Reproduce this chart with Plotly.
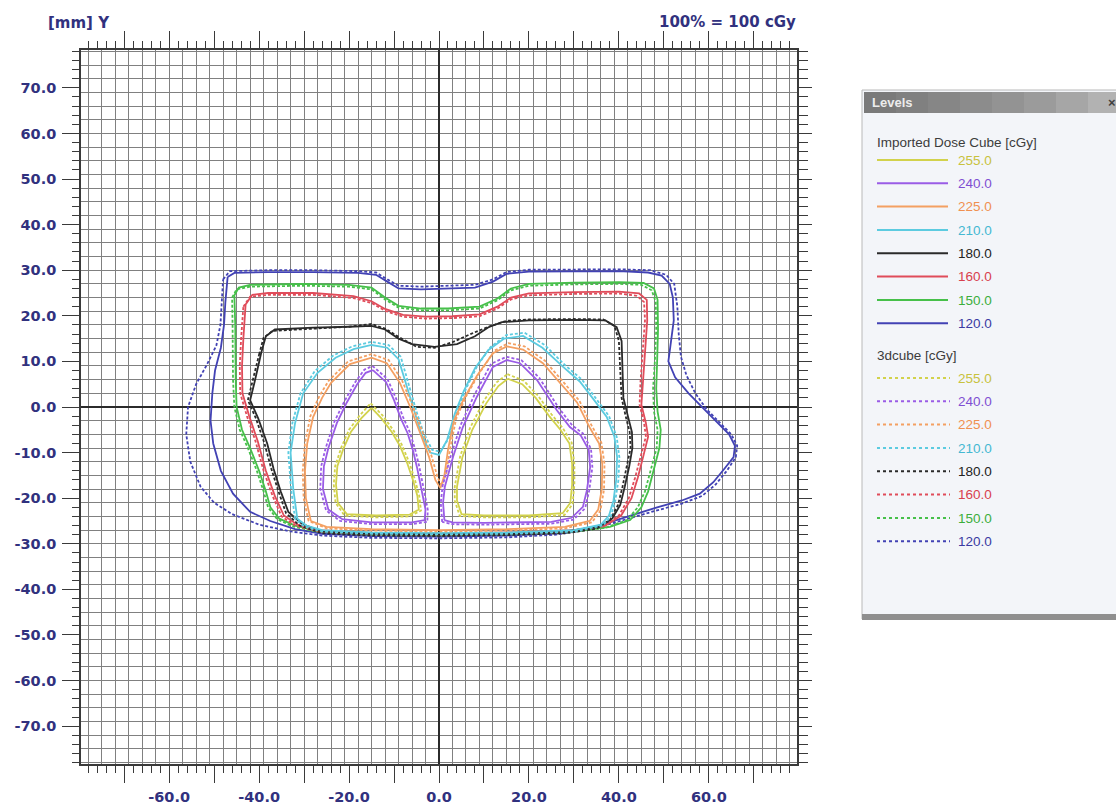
import plotly.graph_objects as go

# ---------------------------------------------------------------------------
# Isodose contours in mm (X, Y). Each level is a list of closed loops.
# "imp_*"  : Imported Dose Cube   (solid)
# "cube_*" : 3dcube               (dashed)
# ---------------------------------------------------------------------------
imp_120 = [[
    (-47.0, 28.5), (-45.5, 29.4), (-38.0, 29.6), (-28.0, 29.6), (-18.0, 29.4), (-14.0, 29.0),
    (-11.5, 27.5), (-9.0, 26.0), (-4.0, 25.8), (2.0, 26.0), (8.0, 26.2), (12.0, 27.5),
    (15.0, 29.2), (20.0, 29.7), (30.0, 29.8), (40.0, 29.8), (46.5, 29.5), (49.5, 28.8),
    (51.3, 27.0), (52.0, 24.0), (52.2, 19.0), (51.5, 14.0), (51.0, 10.0), (52.5, 6.5),
    (55.5, 3.0), (59.0, -0.5), (62.0, -3.5), (64.5, -6.0), (65.8, -8.5), (65.5, -11.0),
    (63.5, -13.5), (61.0, -16.5), (58.0, -19.0), (54.0, -20.5), (48.5, -22.0), (42.0, -24.0),
    (35.0, -26.2), (27.0, -27.6), (15.0, -28.2), (0.0, -28.4), (-15.0, -28.3), (-26.0, -27.8),
    (-32.0, -26.8), (-37.5, -25.0), (-42.0, -23.0), (-45.8, -19.0), (-48.5, -14.0), (-50.2, -8.0),
    (-50.8, -3.0), (-50.4, 3.0), (-49.8, 8.0), (-48.5, 13.0), (-47.8, 18.0), (-47.5, 23.0),
    (-47.0, 28.5),
]]
cube_120 = [[
    (-48.0, 28.0), (-46.5, 29.8), (-38.0, 30.0), (-28.0, 30.0), (-18.0, 29.8), (-14.0, 29.5),
    (-11.5, 28.0), (-9.0, 26.6), (-4.0, 26.4), (2.0, 26.6), (8.0, 26.8), (12.0, 28.0),
    (15.0, 29.6), (20.0, 30.1), (30.0, 30.2), (40.0, 30.2), (47.0, 30.0), (50.5, 29.0),
    (52.3, 27.0), (53.0, 22.0), (53.3, 16.0), (53.8, 11.0), (55.0, 7.0), (57.0, 3.0),
    (59.5, -0.5), (62.5, -3.5), (65.0, -6.0), (66.3, -8.5), (66.0, -11.0), (64.0, -14.0),
    (61.5, -17.0), (58.5, -19.5), (54.0, -21.2), (48.0, -22.8), (41.0, -24.8), (34.0, -26.8),
    (26.0, -28.0), (15.0, -28.6), (0.0, -28.8), (-15.0, -28.7), (-26.0, -28.2), (-33.0, -27.3),
    (-40.0, -25.8), (-46.0, -23.5), (-50.0, -21.0), (-53.0, -17.5), (-55.3, -12.0), (-56.2, -6.0),
    (-55.8, 0.0), (-54.0, 5.0), (-51.5, 9.5), (-49.5, 13.5), (-48.6, 18.0), (-48.3, 23.0),
    (-48.0, 28.0),
]]

imp_150 = [[
    (-45.5, 24.5), (-44.5, 26.2), (-42.0, 26.8), (-30.0, 27.0), (-20.0, 26.8), (-15.0, 26.2),
    (-12.0, 24.0), (-9.0, 22.2), (-4.0, 21.6), (2.0, 21.6), (9.0, 22.0), (13.0, 23.8),
    (16.0, 26.0), (20.0, 27.0), (30.0, 27.3), (40.0, 27.4), (45.5, 27.2), (47.8, 26.0),
    (48.6, 23.5), (48.7, 17.0), (48.5, 10.0), (48.3, 4.0), (48.6, -1.0), (49.3, -5.0),
    (49.0, -9.0), (47.8, -13.5), (46.5, -18.5), (45.0, -22.0), (42.5, -24.8), (38.0, -26.3),
    (30.0, -27.3), (15.0, -27.8), (0.0, -28.0), (-15.0, -27.9), (-27.0, -27.2), (-32.0, -26.0),
    (-35.5, -24.5), (-37.5, -22.0), (-38.5, -18.5), (-40.0, -14.0), (-42.0, -9.0), (-43.8, -5.0),
    (-45.0, 0.0), (-45.2, 6.0), (-45.2, 12.0), (-45.3, 18.0), (-45.5, 24.5),
]]
cube_150 = [[
    (-46.0, 24.0), (-45.0, 25.8), (-42.0, 26.4), (-30.0, 26.6), (-20.0, 26.4), (-15.0, 25.8),
    (-12.0, 23.6), (-9.0, 21.8), (-4.0, 21.2), (2.0, 21.2), (9.0, 21.6), (13.0, 23.4),
    (16.0, 25.6), (20.0, 26.6), (30.0, 26.9), (40.0, 27.0), (45.0, 26.8), (47.3, 25.6),
    (48.2, 23.0), (48.3, 17.0), (48.0, 10.0), (47.6, 4.0), (47.8, -1.0), (48.6, -5.0),
    (48.4, -9.0), (47.2, -13.5), (45.8, -18.5), (44.2, -22.0), (41.8, -24.8), (37.0, -26.5),
    (29.0, -27.5), (15.0, -28.0), (0.0, -28.2), (-15.0, -28.1), (-27.0, -27.4), (-32.5, -26.2),
    (-36.0, -24.6), (-38.0, -22.0), (-39.0, -18.5), (-40.5, -14.0), (-42.5, -9.0), (-44.3, -5.0),
    (-45.5, 0.0), (-45.8, 6.0), (-45.8, 12.0), (-45.9, 18.0), (-46.0, 24.0),
]]

imp_160 = [[
    (-43.0, 22.5), (-41.5, 24.6), (-38.0, 25.0), (-28.0, 25.0), (-19.0, 24.3), (-15.0, 23.2),
    (-12.0, 21.5), (-8.0, 20.2), (-3.0, 19.8), (3.0, 19.9), (9.0, 20.3), (13.0, 22.0),
    (16.0, 24.0), (20.0, 24.9), (30.0, 25.2), (40.0, 25.3), (44.5, 24.9), (46.2, 23.5),
    (46.3, 19.0), (45.8, 12.5), (45.3, 5.5), (45.0, 0.5), (46.0, -3.5), (46.5, -6.5),
    (45.5, -10.5), (44.2, -15.5), (42.8, -20.0), (40.5, -23.8), (37.0, -26.0), (30.0, -27.0),
    (15.0, -27.5), (0.0, -27.7), (-15.0, -27.6), (-27.0, -27.0), (-31.5, -25.8), (-34.5, -23.8),
    (-36.5, -19.5), (-38.5, -14.0), (-40.3, -7.5), (-42.2, -2.0), (-43.7, 3.0), (-43.8, 9.0),
    (-43.5, 15.0), (-43.0, 22.5),
]]
cube_160 = [[
    (-43.5, 22.0), (-42.0, 24.2), (-38.0, 24.6), (-28.0, 24.6), (-19.0, 23.9), (-15.0, 22.8),
    (-12.0, 21.1), (-8.0, 19.8), (-3.0, 19.4), (3.0, 19.5), (9.0, 19.9), (13.0, 21.6),
    (16.0, 23.6), (20.0, 24.5), (30.0, 24.8), (40.0, 24.9), (44.0, 24.4), (45.6, 23.0),
    (45.8, 19.0), (45.3, 12.5), (44.8, 5.5), (44.6, 0.5), (45.6, -3.5), (46.0, -6.5),
    (45.0, -10.5), (43.6, -15.5), (42.2, -20.0), (40.0, -23.8), (36.5, -26.2), (30.0, -27.3),
    (15.0, -27.8), (0.0, -28.0), (-15.0, -27.9), (-27.0, -27.3), (-32.0, -26.0), (-35.0, -24.0),
    (-37.0, -19.5), (-39.0, -14.0), (-40.8, -7.5), (-42.7, -2.0), (-44.2, 3.0), (-44.3, 9.0),
    (-44.0, 15.0), (-43.5, 22.0),
]]

imp_180 = [[
    (-39.5, 12.0), (-38.5, 15.5), (-36.5, 17.0), (-28.0, 17.4), (-20.0, 17.6), (-15.0, 17.8),
    (-12.0, 17.0), (-9.0, 15.0), (-6.0, 13.8), (-1.0, 13.2), (4.0, 13.8), (8.0, 15.5),
    (11.0, 17.5), (14.0, 18.6), (20.0, 19.0), (30.0, 19.1), (37.0, 19.0), (39.5, 17.5),
    (40.6, 14.5), (40.8, 8.0), (41.0, 2.0), (42.0, -2.0), (42.9, -5.5), (43.0, -9.0),
    (42.3, -13.0), (41.3, -17.5), (40.3, -21.5), (38.5, -24.5), (35.5, -26.3), (28.0, -27.3),
    (15.0, -27.7), (0.0, -27.9), (-15.0, -27.8), (-26.0, -27.3), (-30.5, -25.6), (-33.5, -23.0),
    (-35.2, -18.5), (-36.8, -13.5), (-38.2, -8.0), (-40.2, -2.5), (-42.0, 1.5), (-41.0, 5.5),
    (-39.5, 12.0),
]]
cube_180 = [[
    (-40.0, 11.5), (-39.0, 15.2), (-37.0, 16.7), (-28.0, 17.2), (-20.0, 17.6), (-15.0, 18.2),
    (-12.0, 17.2), (-9.0, 15.4), (-5.0, 13.2), (-1.0, 13.0), (3.0, 14.2), (7.0, 16.0),
    (11.0, 17.6), (15.0, 18.9), (20.0, 19.2), (30.0, 19.3), (36.5, 19.2), (39.0, 17.8),
    (40.0, 14.5), (40.3, 8.0), (40.6, 2.0), (41.5, -2.0), (42.4, -5.5), (42.6, -9.0),
    (41.8, -13.0), (40.8, -17.5), (39.8, -21.5), (38.0, -24.8), (35.0, -26.7), (28.0, -27.7),
    (15.0, -28.1), (0.0, -28.3), (-15.0, -28.2), (-26.0, -27.7), (-31.0, -26.0), (-34.0, -23.3),
    (-35.7, -18.5), (-37.3, -13.5), (-38.8, -8.0), (-40.7, -2.5), (-42.5, 1.5), (-41.5, 5.5),
    (-40.0, 11.5),
]]

imp_210 = [[
    (-31.5, -24.5), (-32.4, -18.0), (-33.0, -10.0), (-32.0, -3.5), (-30.2, 3.0), (-27.0, 7.5),
    (-23.0, 10.8), (-19.0, 12.7), (-15.0, 13.6), (-11.5, 13.0), (-9.0, 10.5), (-7.3, 5.0),
    (-5.5, -1.0), (-4.0, -5.7), (-2.0, -10.0), (0.0, -10.5), (1.8, -7.2), (3.5, -1.5),
    (5.5, 3.5), (8.0, 8.5), (11.0, 12.5), (14.5, 15.0), (18.7, 15.6), (23.0, 13.0),
    (27.6, 8.8), (31.3, 5.6), (34.5, 1.5), (37.3, -2.2), (39.0, -6.5), (39.6, -11.0),
    (39.4, -16.0), (38.8, -20.5), (37.8, -23.8), (36.0, -25.8), (30.0, -27.0), (15.0, -27.5),
    (0.0, -27.6), (-15.0, -27.5), (-26.0, -27.0), (-29.5, -26.0), (-31.5, -24.5),
]]
cube_210 = [[
    (-32.0, -24.5), (-32.9, -18.0), (-33.5, -10.0), (-32.6, -3.5), (-30.8, 3.0), (-27.6, 7.9),
    (-23.5, 11.3), (-19.3, 13.3), (-15.0, 14.3), (-11.2, 13.6), (-8.5, 11.0), (-6.8, 5.2),
    (-5.0, -1.0), (-3.5, -5.5), (-1.5, -9.4), (0.3, -9.8), (2.2, -6.8), (4.0, -1.2),
    (6.0, 4.0), (8.5, 9.0), (11.5, 13.2), (15.0, 15.8), (19.0, 16.3), (23.5, 13.6),
    (28.0, 9.2), (31.8, 6.0), (35.0, 1.8), (37.8, -2.0), (39.5, -6.5), (40.1, -11.0),
    (39.9, -16.0), (39.2, -20.5), (38.2, -24.0), (36.4, -26.0), (30.0, -27.3), (15.0, -27.8),
    (0.0, -27.9), (-15.0, -27.8), (-26.0, -27.3), (-30.0, -26.2), (-32.0, -24.5),
]]

imp_225 = [[
    (-28.5, -25.0), (-29.6, -20.0), (-29.8, -14.0), (-29.3, -8.0), (-28.0, -2.2), (-26.0, 2.0),
    (-24.0, 5.3), (-19.8, 9.4), (-15.0, 10.8), (-11.6, 9.6), (-8.7, 5.3), (-6.4, 0.0),
    (-4.2, -5.7), (-2.2, -11.0), (-0.8, -16.0), (0.3, -17.8), (1.2, -15.0), (2.0, -9.4),
    (3.3, -3.0), (5.5, 1.8), (8.4, 6.8), (12.0, 11.8), (15.1, 13.3), (18.7, 12.6),
    (23.1, 9.6), (27.6, 4.6), (30.7, 1.0), (33.5, -4.5), (35.6, -8.0), (36.3, -12.5),
    (36.2, -18.0), (35.4, -22.5), (33.5, -25.0), (28.0, -26.3), (15.0, -26.8), (0.0, -27.0),
    (-15.0, -26.8), (-25.0, -26.3), (-28.5, -25.0),
]]
cube_225 = [[
    (-29.0, -25.0), (-30.1, -20.0), (-30.3, -14.0), (-29.8, -8.0), (-28.6, -2.0), (-26.6, 2.4),
    (-24.5, 5.8), (-20.2, 10.0), (-15.0, 11.6), (-11.2, 10.3), (-8.2, 5.8), (-5.9, 0.3),
    (-3.7, -5.4), (-1.7, -10.6), (-0.3, -15.5), (0.6, -17.2), (1.6, -14.5), (2.5, -9.0),
    (3.8, -2.6), (6.0, 2.3), (8.9, 7.3), (12.4, 12.4), (15.4, 14.0), (19.0, 13.3),
    (23.5, 10.2), (28.0, 5.1), (31.2, 1.4), (34.0, -4.2), (36.1, -7.8), (36.8, -12.5),
    (36.7, -18.0), (35.9, -22.7), (34.0, -25.3), (28.0, -26.6), (15.0, -27.1), (0.0, -27.3),
    (-15.0, -27.1), (-25.0, -26.6), (-29.0, -25.0),
]]

imp_240 = [
    [(-14.7, 8.1), (-11.8, 5.5), (-10.0, 1.5), (-8.5, -2.5), (-7.0, -5.7), (-5.8, -9.5),
     (-4.9, -13.2), (-3.8, -18.9), (-3.0, -22.5), (-3.2, -24.8), (-6.0, -25.3), (-15.0, -25.3),
     (-21.5, -24.6), (-24.6, -22.5), (-25.8, -18.0), (-25.6, -13.0), (-24.6, -9.0), (-22.7, -3.5),
     (-20.5, 1.0), (-18.2, 5.0), (-16.3, 7.5), (-14.7, 8.1)],
    [(1.2, -24.8), (0.9, -21.0), (1.3, -17.5), (3.1, -11.0), (5.3, -4.4), (8.4, 2.2),
     (12.0, 8.8), (15.1, 10.3), (18.0, 9.6), (21.8, 5.9), (26.2, -0.7), (29.1, -4.4),
     (31.5, -6.2), (33.3, -9.4), (33.6, -13.2), (32.9, -18.2), (32.0, -21.9), (29.5, -24.3),
     (25.0, -25.2), (10.0, -25.4), (3.0, -25.3), (1.2, -24.8)],
]
cube_240 = [
    [(-14.8, 9.0), (-11.5, 6.2), (-9.6, 2.0), (-8.0, -2.2), (-6.5, -5.5), (-5.3, -9.3),
     (-4.4, -13.0), (-3.3, -18.7), (-2.5, -22.5), (-2.6, -25.2), (-6.0, -25.7), (-15.0, -25.7),
     (-22.0, -25.0), (-25.1, -22.7), (-26.4, -18.0), (-26.2, -13.0), (-25.2, -9.0), (-23.3, -3.3),
     (-21.0, 1.3), (-18.6, 5.5), (-16.6, 8.2), (-14.8, 9.0)],
    [(0.7, -25.2), (0.4, -21.0), (0.8, -17.3), (2.6, -10.8), (4.8, -4.0), (7.9, 2.7),
     (11.6, 9.5), (15.0, 11.0), (18.3, 10.3), (22.3, 6.4), (26.7, -0.3), (29.6, -4.0),
     (32.0, -5.8), (33.8, -9.2), (34.1, -13.2), (33.4, -18.3), (32.5, -22.2), (29.9, -24.7),
     (25.0, -25.6), (10.0, -25.8), (3.0, -25.7), (0.7, -25.2)],
]

imp_255 = [
    [(-15.0, -0.2), (-12.8, -2.5), (-10.5, -5.5), (-8.7, -8.5), (-7.0, -12.5), (-5.8, -16.0),
     (-4.8, -19.5), (-4.5, -22.5), (-6.5, -23.6), (-14.0, -23.8), (-20.5, -23.5), (-22.5, -21.0),
     (-22.9, -17.0), (-22.6, -13.0), (-21.2, -9.0), (-19.6, -5.5), (-17.3, -2.5), (-15.0, -0.2)],
    [(15.3, 6.2), (18.5, 5.0), (21.5, 2.0), (24.5, -2.0), (27.0, -5.0), (29.0, -8.0),
     (29.6, -12.5), (29.6, -17.0), (29.2, -21.0), (27.5, -23.3), (20.0, -23.8), (10.0, -23.8),
     (5.0, -23.5), (4.0, -20.5), (4.0, -17.5), (5.2, -11.0), (7.4, -5.0), (10.5, 0.8),
     (13.2, 4.6), (15.3, 6.2)],
]
cube_255 = [
    [(-15.2, 0.8), (-12.6, -1.8), (-10.2, -5.0), (-8.3, -8.2), (-6.6, -12.2), (-5.4, -15.8),
     (-4.4, -19.4), (-4.0, -22.7), (-6.5, -24.0), (-14.0, -24.2), (-21.0, -23.8), (-23.0, -21.0),
     (-23.4, -17.0), (-23.1, -13.0), (-21.7, -8.8), (-20.0, -5.0), (-17.6, -1.8), (-15.2, 0.8)],
    [(15.2, 7.2), (18.8, 5.8), (22.0, 2.5), (25.0, -1.6), (27.5, -4.6), (29.5, -7.8),
     (30.1, -12.5), (30.1, -17.0), (29.7, -21.3), (27.9, -23.7), (20.0, -24.2), (10.0, -24.2),
     (4.6, -23.9), (3.5, -20.5), (3.5, -17.5), (4.7, -10.8), (6.9, -4.6), (10.0, 1.4),
     (12.8, 5.4), (15.2, 7.2)],
]

# dose levels (cGy) and their contour sets, listed as in the level panel
levels = [255.0, 240.0, 225.0, 210.0, 180.0, 160.0, 150.0, 120.0]
imported_sets = [imp_255, imp_240, imp_225, imp_210, imp_180, imp_160, imp_150, imp_120]
cube_sets = [cube_255, cube_240, cube_225, cube_210, cube_180, cube_160, cube_150, cube_120]

# axis ticks
x_tick_vals = [-70, -60, -50, -40, -30, -20, -10, 0, 10, 20, 30, 40, 50, 60, 70]
x_tick_text = ["", "-60.0", "", "-40.0", "", "-20.0", "", "0.0", "", "20.0", "", "40.0", "", "60.0", ""]
y_tick_vals = [70, 60, 50, 40, 30, 20, 10, 0, -10, -20, -30, -40, -50, -60, -70]
y_tick_text = ["70.0", "60.0", "50.0", "40.0", "30.0", "20.0", "10.0", "0.0",
               "-10.0", "-20.0", "-30.0", "-40.0", "-50.0", "-60.0", "-70.0"]

# ---------------------------------------------------------------------------
# styling
# ---------------------------------------------------------------------------
line_colors = {
    255.0: "#d2d24c", 240.0: "#9a5ce6", 225.0: "#f4a062", 210.0: "#5ccbe0",
    180.0: "#2a2a2a", 160.0: "#e04c5a", 150.0: "#46c04a", 120.0: "#4242b4",
}
text_colors = {
    255.0: "#c8c23e", 240.0: "#7f4fd2", 225.0: "#f09050", 210.0: "#44b8d2",
    180.0: "#222222", 160.0: "#d8404e", 150.0: "#3cae3c", 120.0: "#3a3aa2",
}
AXIS_BLUE = "#31317e"
W, H = 1116, 810
PL, PR, PT, PB = 81, 797, 50, 764          # plot frame in page pixels


def flatten(loops):
    xs, ys = [], []
    for loop in loops:
        xs += [p[0] for p in loop] + [None]
        ys += [p[1] for p in loop] + [None]
    return xs, ys


def paper(x, y):
    """page pixel -> paper coordinates"""
    return (x - PL) / (PR - PL), (PB - y) / (PB - PT)


fig = go.Figure()

# draw outer levels first
for lev, imp, cube in reversed(list(zip(levels, imported_sets, cube_sets))):
    xs, ys = flatten(imp)
    fig.add_trace(go.Scatter(x=xs, y=ys, mode="lines", showlegend=False,
                             name=f"Imported {lev:.1f}", hoverinfo="skip",
                             line=dict(color=line_colors[lev], width=1.8)))
    xs, ys = flatten(cube)
    fig.add_trace(go.Scatter(x=xs, y=ys, mode="lines", showlegend=False,
                             name=f"3dcube {lev:.1f}", hoverinfo="skip",
                             line=dict(color=line_colors[lev], width=1.8, dash="3px,2px")))

X_RANGE = [-79.6, 79.6]
Y_RANGE = [-78.3, 78.3]
GRID = dict(showgrid=True, gridcolor="#808080", gridwidth=1.3, tick0=0, dtick=3,
            showticklabels=False, ticks="", showline=False, automargin=False,
            zeroline=True, zerolinecolor="#2b2b2b", zerolinewidth=1.6)
MINOR = dict(tickmode="linear", tick0=0, dtick=2, ticks="outside", ticklen=7,
             tickwidth=1.2, tickcolor="#3a3a3a", showgrid=False)
TICKS = dict(showgrid=False, zeroline=False, ticks="outside", ticklen=17, tickwidth=1.4,
             tickcolor="#3a3a3a", showline=True, linecolor="#3a3a3a", linewidth=1.6,
             tickmode="array", automargin=False,
             tickfont=dict(family="DejaVu Sans", size=14.5, color=AXIS_BLUE, weight="bold"),
             minor=MINOR)

fig.update_layout(
    width=W, height=H, autosize=False,
    margin=dict(l=PL, r=W - PR, t=PT, b=H - PB, autoexpand=False),
    paper_bgcolor="white", plot_bgcolor="white",
    showlegend=False,
    xaxis=dict(range=X_RANGE, **GRID),
    yaxis=dict(range=Y_RANGE, **GRID),
    # labelled scales: bottom and left
    xaxis2=dict(range=X_RANGE, overlaying="x", anchor="y", side="bottom",
                tickvals=x_tick_vals, ticktext=x_tick_text, ticklabelstandoff=2, **TICKS),
    yaxis2=dict(range=Y_RANGE, overlaying="y", anchor="x", side="left",
                tickvals=y_tick_vals, ticktext=y_tick_text, ticklabelstandoff=3, **TICKS),
    # tick-only scales: top and right
    xaxis3=dict(range=X_RANGE, overlaying="x", anchor="y", side="top",
                tickvals=x_tick_vals, showticklabels=False, **TICKS),
    yaxis3=dict(range=Y_RANGE, overlaying="y", anchor="x", side="right",
                tickvals=y_tick_vals, showticklabels=False,
                **{**TICKS, "ticklen": 13, "minor": {**MINOR, "ticklen": 9}}),
)
# empty traces so the scale axes get their own subplots
for xa, ya in (("x2", "y"), ("x", "y2"), ("x3", "y"), ("x", "y3")):
    fig.add_trace(go.Scatter(x=[None], y=[None], xaxis=xa, yaxis=ya,
                             showlegend=False, hoverinfo="skip"))

annotations = []
shapes = []

# header texts
x0, y0 = paper(46, 23)
annotations.append(dict(x=x0, y=y0, xref="paper", yref="paper", xanchor="left", yanchor="middle",
                        text="[mm] Y", showarrow=False,
                        font=dict(family="DejaVu Sans", size=15, color=AXIS_BLUE, weight="bold")))
x0, y0 = paper(798, 22)
annotations.append(dict(x=x0, y=y0, xref="paper", yref="paper", xanchor="right", yanchor="middle",
                        text="100% = 100 cGy", showarrow=False,
                        font=dict(family="DejaVu Sans", size=15, color=AXIS_BLUE, weight="bold")))


# ---- level panel ----
def rect(xa, ya, xb, yb, fill, line_color=None, width=0):
    a = paper(xa, ya)
    b = paper(xb, yb)
    shapes.append(dict(type="rect", xref="paper", yref="paper", x0=a[0], y0=b[1], x1=b[0], y1=a[1],
                       fillcolor=fill, line=dict(width=width, color=line_color or fill), layer="above"))


def hline(xa, xb, y, color, width, dash="solid"):
    a = paper(xa, y)
    b = paper(xb, y)
    shapes.append(dict(type="line", xref="paper", yref="paper", x0=a[0], y0=a[1], x1=b[0], y1=b[1],
                       line=dict(color=color, width=width, dash=dash), layer="above"))


def label(x, y, text, color, size=12.5, weight="normal", family="Liberation Sans"):
    px, py = paper(x, y)
    annotations.append(dict(x=px, y=py, xref="paper", yref="paper", xanchor="left", yanchor="middle",
                            text=text, showarrow=False,
                            font=dict(family=family, size=size, color=color, weight=weight)))


rect(862, 90, 1120, 619, "#f3f5f9", "#b9b9b9", 1)
rect(862, 614, 1120, 620, "#8f8f8f")
bar_tones = ["#7a7a7a", "#808080", "#868686", "#8c8c8c", "#939393", "#9b9b9b", "#a6a6a6", "#b2b2b2"]
seg = (1120 - 864) / len(bar_tones)
for i, tone in enumerate(bar_tones):
    rect(864 + i * seg, 92, 864 + (i + 1) * seg + 0.5, 113, tone)
label(870, 103, "Levels", "#ececec", size=13, weight="bold")
label(1106, 103, "×", "#404040", size=13, weight="bold")

label(875, 142, "Imported Dose Cube [cGy]", "#3c3c3c", size=13.5)
row_y_imp = [160, 183.3, 206.6, 230, 253.3, 276.6, 300, 323.3]
for lev, ry in zip(levels, row_y_imp):
    hline(877, 948, ry, line_colors[lev], 2)
    label(956, ry, f"{lev:.1f}", text_colors[lev], size=13.5)

label(875, 355, "3dcube [cGy]", "#3c3c3c", size=13.5)
row_y_cube = [378, 401.3, 424.6, 448, 471.3, 494.6, 518, 541.3]
for lev, ry in zip(levels, row_y_cube):
    hline(877, 950, ry, line_colors[lev], 2, dash="3px,3px")
    label(956, ry, f"{lev:.1f}", text_colors[lev], size=13.5)

fig.update_layout(shapes=shapes, annotations=annotations)
fig.write_html("out.html")
